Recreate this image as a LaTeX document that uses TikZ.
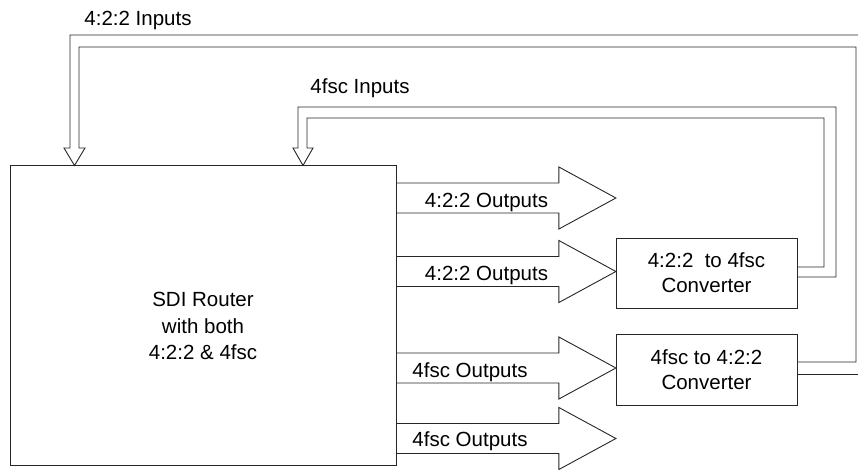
\documentclass[tikz,border=0pt]{standalone}
\usepackage{fontspec}
\setmainfont{Liberation Sans}
\begin{document}
\begin{tikzpicture}[x=1pt,y=-1pt,
  flow/.style={draw=black!85, line width=0.9pt, line join=miter},
  box/.style={draw=black!85, line width=0.9pt, inner sep=0pt},
  lbl/.style={font=\fontsize{20.5}{25}\selectfont, inner sep=0pt, align=center}]
\useasboundingbox (0,0) rectangle (858,470);
% router
\node[box, minimum width=386pt, minimum height=299.5pt, anchor=north west] (router) at (10,165.5) {};
\node[lbl, font=\fontsize{20.5}{26.5}\selectfont] (rtext) at (203,326) {SDI Router\\with both\\4:2:2 \& 4fsc};
% converters
\node[box, minimum width=181pt, minimum height=70pt, lbl] (c1) at (706.5,273) {4:2:2\ \ to 4fsc\\Converter};
\node[box, minimum width=181pt, minimum height=71pt, lbl] (c2) at (706.5,369.5) {4fsc to 4:2:2\\Converter};
% input labels
\node[lbl] (l422in) at (138,20) {4:2:2 Inputs};
\node[lbl] (lfscin) at (360,88) {4fsc Inputs};
% input tips on router top
\coordinate (t1) at (router.north west -| 74.5,0);
\coordinate (t2) at (router.north west -| 303,0);
\coordinate (edgeA) at (858,35);
\coordinate (edgeB) at (858,374);
% 4:2:2 inputs loop (from 4fsc to 4:2:2 converter)
\draw[flow] (c2.east |- 0,374) -- (edgeB);
\draw[flow] (edgeA) -- (70,35) -- (70,148) -- (64,148) -- (t1) -- (85,148) -- (79,148) -- (79,47) -- (856,47) -- (856,362) -- (c2.east |- 0,362);
% 4fsc inputs loop (from 4:2:2 to 4fsc converter)
\draw[flow] (c1.east |- 0,267) -- (824,267) -- (824,118) -- (307,118) -- (307,148) -- (313,148) -- (t2) -- (293,148) -- (298,148) -- (298,107) -- (836,107) -- (836,277) -- (c1.east |- 0,277);
% output arrows
\path (router.east |- 0,198) coordinate (a1);
\path (router.east |- 0,271.5) coordinate (a2);
\path (router.east |- 0,368) coordinate (a3);
\path (router.east |- 0,438.5) coordinate (a4);
\foreach \a in {a1,a2,a3,a4}{
  \draw[flow] (\a) ++(0,-15) -- ++(162,0) -- ++(0,-16) -- ++(57,31) -- ++(-57,31) -- ++(0,-16) -- ++(-162,0);
}
\node[lbl] (o1) at (486.5,202) {4:2:2 Outputs};
\node[lbl] (o2) at (486.5,275) {4:2:2 Outputs};
\node[lbl] (o3) at (470,372) {4fsc Outputs};
\node[lbl] (o4) at (470,441) {4fsc Outputs};
\end{tikzpicture}
\end{document}
